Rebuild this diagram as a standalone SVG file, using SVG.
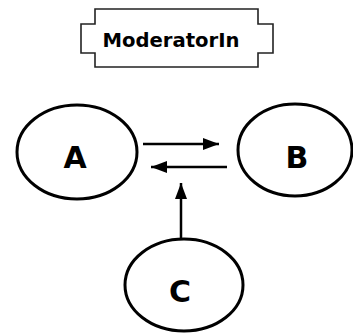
<svg xmlns="http://www.w3.org/2000/svg" width="353" height="333" viewBox="0 0 353 333">
<style>
.node{fill:#fff;stroke:#000;stroke-width:3}
.lbl{font-family:"DejaVu Sans",sans-serif;font-weight:bold;font-size:30px;fill:#000;text-anchor:middle}
.conn{stroke:#000;stroke-width:2.5;fill:none}
</style>
<defs>
<marker id="ah" viewBox="0 0 16 12" refX="16" refY="6" markerWidth="16" markerHeight="12" markerUnits="userSpaceOnUse" orient="auto">
<path d="M0,0 L16,6 L0,12 Z" fill="#000"/>
</marker>
</defs>
<rect width="353" height="333" fill="#fff"/>
<g id="moderatorIn">
<path d="M95,9 H258 V24 H273 V53 H258 V67 H95 V53 H81 V24 H95 Z" fill="#fff" stroke="#222" stroke-width="1.6"/>
<text x="171" y="47" font-family="'DejaVu Sans',sans-serif" font-weight="bold" font-size="20" text-anchor="middle" fill="#000" textLength="137" lengthAdjust="spacingAndGlyphs">ModeratorIn</text>
</g>
<g id="A">
<ellipse class="node" cx="77" cy="152" rx="60" ry="47"/>
<text class="lbl" x="75" y="168">A</text>
</g>
<g id="B">
<ellipse class="node" cx="295" cy="150" rx="57" ry="46"/>
<text class="lbl" x="297" y="168">B</text>
</g>
<g id="C">
<ellipse class="node" cx="184" cy="285" rx="59" ry="46"/>
<text class="lbl" x="180" y="302">C</text>
</g>
<g id="connectors">
<line class="conn" x1="143" y1="144" x2="219" y2="144" marker-end="url(#ah)"/>
<line class="conn" x1="227" y1="167" x2="151" y2="167" marker-end="url(#ah)"/>
<line class="conn" x1="181" y1="239" x2="181" y2="183" marker-end="url(#ah)"/>
</g>
</svg>
